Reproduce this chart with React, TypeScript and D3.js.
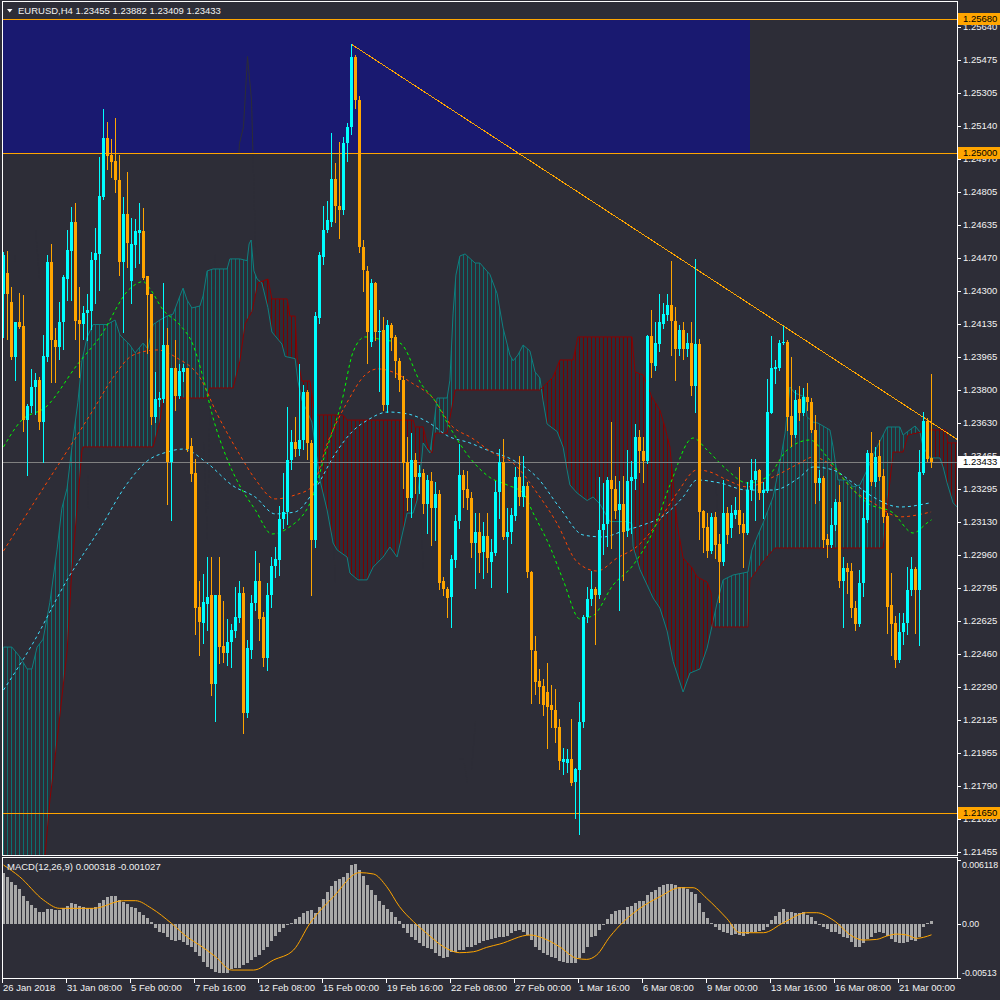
import React from "react";
import * as d3 from "d3";

// ---------------- DATA ----------------
const headerSymbol = "EURUSD,H4";
const headerValues = ["1.23455", "1.23882", "1.23409", "1.23433"];

const opens = [
  1.24288, 1.24391, 1.24246, 1.23967, 1.24143, 1.24122, 1.23646, 1.23719, 1.23812, 1.23851,
  1.23636, 1.23967, 1.24449, 1.24054, 1.24019, 1.24143, 1.24364, 1.24505, 1.24650, 1.24153,
  1.24133, 1.24190, 1.24201, 1.24460, 1.24491, 1.24778, 1.25078, 1.24992, 1.24961, 1.24863,
  1.24449, 1.24691, 1.24350, 1.24536, 1.24598, 1.24605, 1.24377, 1.24286, 1.23661, 1.23750,
  1.23754, 1.24029, 1.23435, 1.23911, 1.23766, 1.23888, 1.23911, 1.23512, 1.23377, 1.22700,
  1.22617, 1.22715, 1.22756, 1.22307, 1.22756, 1.22501, 1.22464, 1.22518, 1.22576, 1.22642,
  1.22766, 1.22160, 1.22480, 1.22718, 1.22827, 1.22645, 1.22438, 1.22759, 1.22904, 1.22935,
  1.23142, 1.23180, 1.23442, 1.23535, 1.23498, 1.23546, 1.23788, 1.23530, 1.23040, 1.24165,
  1.24476, 1.24611, 1.24650, 1.24870, 1.24735, 1.24712, 1.25050, 1.25135, 1.25491, 1.25270,
  1.24526, 1.24403, 1.24042, 1.24342, 1.24098, 1.24102, 1.23722, 1.24130, 1.24068, 1.23948,
  1.23850, 1.23435, 1.23249, 1.23443, 1.23359, 1.23379, 1.23220, 1.23337, 1.23201, 1.23270,
  1.22827, 1.22790, 1.22749, 1.22935, 1.23132, 1.23366, 1.23297, 1.23250, 1.23024, 1.23077,
  1.22976, 1.23057, 1.22927, 1.22970, 1.23281, 1.23432, 1.23053, 1.23079, 1.23160, 1.23359,
  1.23258, 1.23310, 1.22873, 1.22474, 1.22324, 1.22295, 1.22266, 1.22198, 1.22173, 1.22087,
  1.21912, 1.21906, 1.21926, 1.21809, 1.21868, 1.22114, 1.22645, 1.22737, 1.22787, 1.22756,
  1.23086, 1.23121, 1.23340, 1.23295, 1.23190, 1.23219, 1.23083, 1.23339, 1.23345, 1.23559,
  1.23491, 1.23436, 1.24074, 1.23922, 1.24031, 1.24136, 1.24181, 1.24230, 1.24148, 1.24006,
  1.24103, 1.24006, 1.24039, 1.23821, 1.24031, 1.23186, 1.23104, 1.22983, 1.23152, 1.23016,
  1.22927, 1.23172, 1.23096, 1.23164, 1.23192, 1.23118, 1.23074, 1.23291, 1.23341, 1.23392,
  1.23277, 1.23287, 1.23683, 1.23905, 1.23908, 1.24035, 1.24043, 1.23666, 1.23570, 1.23752,
  1.23680, 1.23761, 1.23739, 1.23598, 1.23328, 1.23350, 1.23045, 1.23011, 1.23113, 1.23231,
  1.22830, 1.22893, 1.22881, 1.22690, 1.22610, 1.22817, 1.23139, 1.23480, 1.23333, 1.23463,
  1.23362, 1.23159, 1.22707, 1.22617, 1.22428, 1.22572, 1.22615, 1.22783, 1.22888, 1.22783,
  1.23379, 1.23643, 1.23455,
];
const highs = [
  1.24500, 1.24505, 1.24323, 1.24143, 1.24290, 1.24282, 1.23729, 1.23905, 1.23884, 1.23864,
  1.24079, 1.24484, 1.24540, 1.24112, 1.24246, 1.24381, 1.24613, 1.24727, 1.24749, 1.24323,
  1.24226, 1.24286, 1.24497, 1.24623, 1.24981, 1.25225, 1.25157, 1.25074, 1.25180, 1.24992,
  1.24778, 1.24905, 1.24671, 1.24667, 1.24749, 1.24722, 1.24377, 1.24286, 1.23888, 1.23791,
  1.24344, 1.24112, 1.23911, 1.24050, 1.23930, 1.23930, 1.23911, 1.23553, 1.23449, 1.22829,
  1.22864, 1.22953, 1.22953, 1.22760, 1.22953, 1.22729, 1.22638, 1.22611, 1.22797, 1.22830,
  1.22800, 1.22530, 1.22760, 1.22980, 1.22920, 1.22670, 1.22820, 1.22950, 1.23000, 1.23210,
  1.23380, 1.23711, 1.23597, 1.23660, 1.23929, 1.23825, 1.23800, 1.23545, 1.24197, 1.24500,
  1.24735, 1.24760, 1.25103, 1.24952, 1.25057, 1.25083, 1.25154, 1.25553, 1.25500, 1.25290,
  1.24560, 1.24430, 1.24360, 1.24345, 1.24207, 1.24170, 1.24155, 1.24140, 1.24080, 1.23960,
  1.23870, 1.23560, 1.23579, 1.23477, 1.23420, 1.23400, 1.23367, 1.23384, 1.23333, 1.23290,
  1.22850, 1.22800, 1.22960, 1.23163, 1.23525, 1.23395, 1.23390, 1.23280, 1.23176, 1.23176,
  1.23131, 1.23176, 1.23044, 1.23335, 1.23501, 1.23549, 1.23199, 1.23199, 1.23409, 1.23462,
  1.23462, 1.23331, 1.22880, 1.22548, 1.22383, 1.22334, 1.22412, 1.22301, 1.22282, 1.22130,
  1.21984, 1.21978, 1.22130, 1.21880, 1.22217, 1.22655, 1.22801, 1.22878, 1.22800, 1.23355,
  1.23325, 1.23355, 1.23637, 1.23360, 1.23339, 1.23364, 1.23495, 1.23436, 1.23627, 1.23594,
  1.23559, 1.24080, 1.24204, 1.24142, 1.24284, 1.24239, 1.24288, 1.24453, 1.24220, 1.24130,
  1.24142, 1.24090, 1.24142, 1.24463, 1.24060, 1.23190, 1.23172, 1.23172, 1.23180, 1.23070,
  1.23341, 1.23205, 1.23214, 1.23257, 1.23409, 1.23172, 1.23333, 1.23451, 1.23451, 1.23400,
  1.23333, 1.23857, 1.24072, 1.23950, 1.24052, 1.24123, 1.24055, 1.23967, 1.23798, 1.23818,
  1.23807, 1.23832, 1.23760, 1.23671, 1.23392, 1.23360, 1.23070, 1.23200, 1.23248, 1.23316,
  1.22952, 1.22920, 1.22920, 1.22730, 1.22885, 1.23291, 1.23494, 1.23587, 1.23511, 1.23544,
  1.23400, 1.23172, 1.22868, 1.22650, 1.22665, 1.22665, 1.22901, 1.22952, 1.22900, 1.23494,
  1.23688, 1.23659, 1.23882,
];
const lows = [
  1.24070, 1.24060, 1.23957, 1.23847, 1.24112, 1.23590, 1.23367, 1.23687, 1.23677, 1.23603,
  1.23433, 1.23947, 1.23839, 1.23839, 1.23957, 1.24008, 1.24257, 1.24257, 1.24060, 1.23864,
  1.24060, 1.24050, 1.24108, 1.24242, 1.24308, 1.24770, 1.24919, 1.24878, 1.24805, 1.24381,
  1.24091, 1.24422, 1.24242, 1.24422, 1.24443, 1.24360, 1.23988, 1.23625, 1.23636, 1.23719,
  1.23739, 1.23222, 1.23139, 1.23698, 1.23760, 1.23843, 1.23491, 1.23336, 1.22559, 1.22456,
  1.22514, 1.22580, 1.22249, 1.22118, 1.22414, 1.22418, 1.22404, 1.22394, 1.22543, 1.22620,
  1.22060, 1.22140, 1.22440, 1.22680, 1.22530, 1.22400, 1.22380, 1.22700, 1.22850, 1.22860,
  1.23100, 1.23120, 1.23400, 1.23463, 1.23470, 1.23500, 1.23450, 1.22760, 1.23000, 1.24140,
  1.24440, 1.24600, 1.24630, 1.24650, 1.24570, 1.24690, 1.24963, 1.25100, 1.25230, 1.24500,
  1.24300, 1.23938, 1.24020, 1.24050, 1.23794, 1.23699, 1.23689, 1.24000, 1.23865, 1.23794,
  1.23300, 1.23190, 1.23156, 1.23274, 1.23274, 1.23173, 1.23071, 1.23012, 1.23037, 1.22790,
  1.22760, 1.22645, 1.22594, 1.22900, 1.23100, 1.23204, 1.23194, 1.22950, 1.22795, 1.22873,
  1.22845, 1.22873, 1.22801, 1.22960, 1.23150, 1.23044, 1.22775, 1.23020, 1.23140, 1.23215,
  1.23209, 1.22849, 1.22212, 1.22256, 1.22208, 1.22149, 1.21984, 1.22091, 1.22013, 1.21877,
  1.21848, 1.21858, 1.21796, 1.21625, 1.21543, 1.22090, 1.22620, 1.22710, 1.22509, 1.22742,
  1.22966, 1.23005, 1.22995, 1.23150, 1.22684, 1.22834, 1.23060, 1.23073, 1.23296, 1.23384,
  1.23331, 1.23430, 1.23864, 1.23899, 1.23996, 1.24113, 1.24156, 1.23977, 1.23850, 1.23977,
  1.23957, 1.23970, 1.23773, 1.23685, 1.23044, 1.22978, 1.22949, 1.22970, 1.22944, 1.22724,
  1.22910, 1.23020, 1.23054, 1.23150, 1.23071, 1.22902, 1.23068, 1.23240, 1.23138, 1.23248,
  1.23147, 1.23280, 1.23680, 1.23832, 1.23900, 1.24030, 1.23595, 1.23514, 1.23560, 1.23646,
  1.23670, 1.23697, 1.23587, 1.23223, 1.23240, 1.23003, 1.22952, 1.23000, 1.23090, 1.22800,
  1.22597, 1.22766, 1.22648, 1.22580, 1.22600, 1.22752, 1.23130, 1.23316, 1.23310, 1.23340,
  1.23130, 1.22563, 1.22453, 1.22394, 1.22420, 1.22512, 1.22560, 1.22760, 1.22563, 1.22504,
  1.23370, 1.23440, 1.23409,
];
const closes = [
  1.24484, 1.24288, 1.23967, 1.24143, 1.24118, 1.23646, 1.23719, 1.23816, 1.23851, 1.23636,
  1.23973, 1.24449, 1.24050, 1.24015, 1.24143, 1.24371, 1.24511, 1.24650, 1.24147, 1.24133,
  1.24190, 1.24205, 1.24460, 1.24495, 1.24785, 1.25078, 1.24987, 1.24956, 1.24863, 1.24449,
  1.24691, 1.24546, 1.24540, 1.24605, 1.24609, 1.24366, 1.24282, 1.23661, 1.23754, 1.23760,
  1.24029, 1.23435, 1.23911, 1.23766, 1.23895, 1.23911, 1.23501, 1.23371, 1.22694, 1.22621,
  1.22721, 1.22750, 1.22307, 1.22760, 1.22497, 1.22462, 1.22522, 1.22580, 1.22646, 1.22766,
  1.22160, 1.22490, 1.22718, 1.22827, 1.22635, 1.22438, 1.22759, 1.22904, 1.22939, 1.23142,
  1.23180, 1.23442, 1.23535, 1.23498, 1.23546, 1.23788, 1.23530, 1.23040, 1.24173, 1.24486,
  1.24611, 1.24663, 1.24870, 1.24735, 1.24710, 1.25050, 1.25135, 1.25491, 1.25270, 1.24526,
  1.24408, 1.24093, 1.24342, 1.24093, 1.24100, 1.23722, 1.24130, 1.24063, 1.23948, 1.23850,
  1.23430, 1.23249, 1.23443, 1.23359, 1.23376, 1.23220, 1.23342, 1.23201, 1.23271, 1.22821,
  1.22790, 1.22745, 1.22939, 1.23132, 1.23366, 1.23291, 1.23250, 1.23024, 1.23077, 1.22970,
  1.23057, 1.22946, 1.22976, 1.23281, 1.23432, 1.23053, 1.23079, 1.23164, 1.23359, 1.23258,
  1.23310, 1.22873, 1.22480, 1.22315, 1.22289, 1.22198, 1.22192, 1.22173, 1.22081, 1.21916,
  1.21926, 1.21926, 1.21804, 1.21873, 1.22114, 1.22645, 1.22737, 1.22787, 1.22756, 1.23086,
  1.23121, 1.23340, 1.23295, 1.23185, 1.23219, 1.23079, 1.23339, 1.23355, 1.23559, 1.23487,
  1.23436, 1.24074, 1.23934, 1.24035, 1.24142, 1.24185, 1.24230, 1.24148, 1.24006, 1.24103,
  1.24006, 1.24039, 1.23821, 1.24031, 1.23181, 1.23099, 1.22983, 1.23152, 1.23011, 1.22927,
  1.23172, 1.23062, 1.23172, 1.23192, 1.23113, 1.23074, 1.23291, 1.23341, 1.23387, 1.23277,
  1.23290, 1.23688, 1.23908, 1.23916, 1.24035, 1.24043, 1.23663, 1.23570, 1.23747, 1.23680,
  1.23761, 1.23739, 1.23595, 1.23328, 1.23350, 1.23040, 1.23011, 1.23113, 1.23231, 1.22830,
  1.22893, 1.22876, 1.22690, 1.22610, 1.22817, 1.23147, 1.23480, 1.23333, 1.23460, 1.23358,
  1.23155, 1.22698, 1.22610, 1.22428, 1.22572, 1.22617, 1.22783, 1.22888, 1.22786, 1.23384,
  1.23643, 1.23451, 1.23433,
];

// moving averages: [bar index, price]
const maFast: [number, number][] = [
  [0, 1.2351], [4.1, 1.23636], [10.9, 1.23718], [18.4, 1.23926], [24.1, 1.24068], [31.6, 1.24313],
  [34.9, 1.24349], [36.6, 1.24313], [39.9, 1.24205], [44.1, 1.24129], [47.4, 1.24027], [49.9, 1.23862],
  [52.4, 1.23657], [55.9, 1.23449], [59.1, 1.23312], [62.9, 1.23192], [67.1, 1.23068], [71.1, 1.23098],
  [77.1, 1.23246], [80.4, 1.23474], [84.6, 1.23743], [87.4, 1.23992], [90.4, 1.24068], [94.9, 1.24053],
  [99.1, 1.24037], [104.6, 1.23824], [107.9, 1.23743], [111.1, 1.23626], [116.6, 1.23454], [121.6, 1.23355],
  [125.9, 1.23317], [129.9, 1.23276], [132.4, 1.23175], [136.6, 1.23004], [139.9, 1.22835], [144.1, 1.22637],
  [147.4, 1.22654], [152.4, 1.22809], [157.4, 1.2291], [162.4, 1.23083], [166.6, 1.23316], [172.4, 1.23555],
  [175.9, 1.23494], [180.9, 1.23393], [185.9, 1.23327], [190.9, 1.23357], [195.9, 1.23494], [201.6, 1.23545],
  [205.9, 1.23459], [210.9, 1.23327], [215.9, 1.23226], [222.4, 1.23175], [227.4, 1.23073], [230.9, 1.23124],
  [232, 1.2314],
];
const maMid: [number, number][] = [
  [0, 1.22982], [7.4, 1.2322], [15.9, 1.23489], [22.4, 1.23697], [27.4, 1.23862], [32.4, 1.23976],
  [38.4, 1.24002], [43.4, 1.23961], [49.1, 1.23862], [53.4, 1.23677], [59.1, 1.23469], [62.9, 1.23347],
  [67.9, 1.23246], [72.9, 1.23266], [77.1, 1.23307], [81.1, 1.23535], [86.1, 1.23743], [90.4, 1.23875],
  [93.6, 1.23906], [97.9, 1.23885], [102.1, 1.23834], [107.1, 1.23763], [112.1, 1.23616], [117.1, 1.23555],
  [122.4, 1.23479], [127.4, 1.23428], [133.4, 1.23276], [138.4, 1.23121], [143.4, 1.22926], [148.4, 1.2288],
  [153.4, 1.22946], [158.4, 1.23005], [163.4, 1.23121], [168.4, 1.23276], [173.4, 1.23393], [176.6, 1.23383],
  [180.9, 1.23342], [185.9, 1.23307], [192.4, 1.23357], [199.1, 1.23428], [202.4, 1.23459], [207.4, 1.23408],
  [212.4, 1.23291], [217.4, 1.23226], [224.1, 1.23155], [231.9, 1.2318],
];
const maSlow: [number, number][] = [
  [0, 1.22276], [7.4, 1.22515], [15.9, 1.22835], [24.1, 1.23095], [30.9, 1.23323], [35.9, 1.23438],
  [40.9, 1.23484], [44.9, 1.23499], [50.9, 1.23428], [57.4, 1.23312], [62.9, 1.23256], [67.9, 1.2317],
  [72.9, 1.2318], [77.9, 1.23296], [82.9, 1.23474], [87.1, 1.23586], [91.1, 1.23647], [96.1, 1.23687],
  [101.1, 1.23677], [106.1, 1.23636], [111.1, 1.23565], [116.6, 1.2353], [120.9, 1.23494], [127.4, 1.23443],
  [133.4, 1.23355], [139.1, 1.232], [144.9, 1.23063], [149.9, 1.23053], [154.9, 1.23083], [159.9, 1.23114],
  [164.9, 1.23159], [169.9, 1.23256], [173.4, 1.23342], [179.1, 1.23327], [185.9, 1.23291], [192.4, 1.23291],
  [199.1, 1.23357], [202.4, 1.23408], [207.4, 1.23393], [212.4, 1.23327], [217.4, 1.23256], [224.1, 1.23205],
  [231.6, 1.23226],
];

// Ichimoku cloud spans (already shifted): [bar index, price]
const spanA: [number, number][] = [
  [0, 1.22494], [2.1, 1.22494], [4.1, 1.22444], [5.9, 1.22383], [7.1, 1.22383], [8.4, 1.22494], [9.9, 1.22534],
  [11.6, 1.22722], [13.4, 1.22991], [14.6, 1.23199], [15.9, 1.23301], [17.1, 1.23509], [18.6, 1.23737],
  [19.6, 1.23946], [20.9, 1.24067], [22.4, 1.24131], [25.9, 1.24131], [27.9, 1.24154], [29.1, 1.24078],
  [31.6, 1.24027], [32.9, 1.23987], [34.9, 1.24037], [36.1, 1.24007], [37.4, 1.24131], [39.1, 1.24154],
  [40.9, 1.24174], [42.4, 1.24184], [44.1, 1.24276], [44.9, 1.24316], [45.9, 1.24255], [47.1, 1.24215],
  [49.1, 1.24225], [49.9, 1.24276], [50.9, 1.24403], [52.4, 1.24413], [55.9, 1.24413], [56.6, 1.24464],
  [59.1, 1.24464], [60.9, 1.24455], [61.4, 1.2454], [61.9, 1.2456], [62.6, 1.24403], [63.4, 1.24362],
  [64.6, 1.24342], [66.1, 1.24217], [67.1, 1.24093], [69.6, 1.24032], [70.4, 1.23969], [72.9, 1.23958],
  [73.6, 1.23844], [74.6, 1.23748], [77.1, 1.23636], [79.1, 1.23342], [80.9, 1.2319], [82.4, 1.23022],
  [83.4, 1.22987], [85.9, 1.22951], [86.6, 1.2287], [88.6, 1.22835], [90.9, 1.22835], [92.4, 1.229],
  [94.9, 1.22951], [96.6, 1.23002], [98.4, 1.22951], [100.9, 1.23174], [102.4, 1.23174], [103.4, 1.2324],
  [104.6, 1.23459], [104.9, 1.2353], [106.6, 1.23479], [107.4, 1.23596], [108.4, 1.23758], [110.9, 1.23758],
  [111.6, 1.23849], [112.4, 1.24189], [113.1, 1.24382], [114.1, 1.24479], [115.4, 1.24489], [117.9, 1.24443],
  [119.1, 1.24443], [121.6, 1.24385], [123.4, 1.24288], [124.9, 1.24113], [126.6, 1.23976], [127.4, 1.23947],
  [128.6, 1.23976], [129.9, 1.24027], [131.6, 1.23997], [132.9, 1.2389], [134.1, 1.2386], [134.9, 1.23743],
  [135.9, 1.23626], [138.4, 1.23588], [139.9, 1.23509], [140.9, 1.23393], [141.6, 1.23317], [143.4, 1.23276],
  [145.9, 1.23238], [147.4, 1.23256], [149.1, 1.2322], [151.6, 1.23131], [155.9, 1.23131], [157.1, 1.23121],
  [157.4, 1.23005], [159.1, 1.22888], [160.9, 1.22809], [162.4, 1.22743], [164.1, 1.22692], [165.9, 1.22576],
  [167.4, 1.22421], [169.9, 1.22266], [171.6, 1.22362], [174.1, 1.22383], [175.9, 1.22489], [178.4, 1.22718],
  [179.9, 1.22835], [182.4, 1.2286], [186.1, 1.22875], [187.1, 1.22987], [188.4, 1.23053], [189.9, 1.23124],
  [192.4, 1.23256], [194.1, 1.23428], [195.4, 1.2358], [196.6, 1.23814], [197.9, 1.23783], [200.4, 1.23763],
  [200.9, 1.23662], [202.4, 1.23636], [203.6, 1.23631], [206.6, 1.23596], [207.4, 1.2351], [208.6, 1.23342],
  [210.9, 1.23342], [212.4, 1.23307], [214.1, 1.23317], [215.9, 1.23393], [218.4, 1.2351], [220.9, 1.23611],
  [224.1, 1.23611], [224.9, 1.2357], [225.9, 1.23586], [227.9, 1.23616], [229.1, 1.23586], [229.9, 1.2351],
  [231.6, 1.23454], [234.1, 1.23454], [234.9, 1.23408], [235.9, 1.23327], [237.4, 1.23226], [238.6, 1.23201],
];
const spanB: [number, number][] = [
  [0, 1.208], [10.4, 1.2144], [11.6, 1.21718], [13.4, 1.22023], [15.9, 1.22475], [17.1, 1.22891],
  [18.4, 1.23201], [19.6, 1.23489], [19.9, 1.2351], [37.4, 1.2351], [39.1, 1.23636], [39.9, 1.23758],
  [50.9, 1.23758], [51.6, 1.23809], [57.4, 1.23809], [59.1, 1.23946], [60.4, 1.24134], [62.1, 1.24197],
  [63.6, 1.24342], [66.1, 1.24362], [67.1, 1.24261], [70.9, 1.24261], [71.6, 1.24174], [72.9, 1.24174],
  [73.4, 1.23969], [74.6, 1.23844], [76.6, 1.23844], [77.9, 1.23672], [84.9, 1.23672], [85.9, 1.23646],
  [102.4, 1.23646], [102.9, 1.23611], [104.9, 1.23611], [106.1, 1.2351], [107.1, 1.23479], [107.9, 1.2358],
  [110.9, 1.2358], [112.9, 1.23799], [134.1, 1.23799], [137.4, 1.23865], [139.1, 1.23951], [142.4, 1.23951],
  [143.6, 1.24068], [157.1, 1.24068], [157.9, 1.2389], [159.9, 1.23875], [162.1, 1.23763], [164.1, 1.23697],
  [165.4, 1.23607], [166.6, 1.2351], [168.4, 1.23121], [169.9, 1.22946], [172.1, 1.22897], [173.4, 1.2285],
  [175.9, 1.22824], [176.9, 1.22768], [177.4, 1.22596], [186.1, 1.22596], [186.6, 1.22835], [187.9, 1.2287],
  [189.6, 1.22921], [192.4, 1.22987], [192.9, 1.22997], [219.9, 1.22997], [221.1, 1.2324], [222.4, 1.23484],
  [224.9, 1.23484], [226.1, 1.2357], [231.6, 1.23596], [235.6, 1.23596], [236.1, 1.2353], [238.6, 1.2353],
];
const chikouShift = 26;

// MACD(12,26,9)
const macdMain = [
  0.00491, 0.00453, 0.00405, 0.00373, 0.00331, 0.00268, 0.0022, 0.00182, 0.0015, 0.00118,
  0.00118, 0.00143, 0.00143, 0.00134, 0.00134, 0.0015, 0.00172, 0.00204, 0.00191, 0.00172,
  0.00166, 0.0015, 0.0015, 0.00159, 0.00198, 0.00229, 0.00261, 0.00268, 0.00268, 0.00229,
  0.00214, 0.00188, 0.00166, 0.0015, 0.00118, 0.00086, 0.00054, 0.00022, -0.00041, -0.00073,
  -0.00089, -0.00127, -0.00153, -0.00159, -0.00153, -0.00169, -0.00201, -0.00217, -0.00265, -0.00306,
  -0.0036, -0.00408, -0.00433, -0.00456, -0.00465, -0.00472, -0.00472, -0.00433, -0.00424, -0.00417,
  -0.00392, -0.00376, -0.00344, -0.00319, -0.00296, -0.00249, -0.00217, -0.00159, -0.00115, -0.00073,
  -0.00041, -0.0001, 0.00006, 0.00045, 0.0007, 0.00108, 0.00124, 0.00134, 0.00102, 0.00166,
  0.00236, 0.00309, 0.00363, 0.00414, 0.00433, 0.00453, 0.00491, 0.00564, 0.00574, 0.00516,
  0.00459, 0.00373, 0.00325, 0.00277, 0.00223, 0.00182, 0.0014, 0.00118, 0.0007, 0.00032,
  -0.00041, -0.00089, -0.00127, -0.00153, -0.00185, -0.0021, -0.00226, -0.00242, -0.0028, -0.00306,
  -0.00322, -0.00319, -0.00265, -0.00265, -0.00249, -0.00249, -0.00223, -0.00223, -0.00201, -0.00178,
  -0.00159, -0.00153, -0.00147, -0.00137, -0.00127,
  -0.00127, -0.00115, -0.00089, -0.00067, -0.00057, -0.00073, -0.00105, -0.00153, -0.00217, -0.00249,
  -0.0028, -0.00296, -0.00312, -0.00328, -0.00351, -0.0036, -0.0037, -0.00376, -0.00376, -0.00328,
  -0.0028, -0.00217, -0.00127, -0.00115, -0.00057, -0.00003, 0.00048, 0.00092, 0.00121, 0.00134,
  0.00134, 0.00166, 0.00172, 0.00204, 0.00223, 0.00223, 0.00277, 0.00309, 0.00325, 0.00351,
  0.00373, 0.00382, 0.00382, 0.00373, 0.00357, 0.00351, 0.00331, 0.00309, 0.00287, 0.00198,
  0.00118, 0.00054, 0.00013, -0.00032, -0.00057, -0.00073, -0.00089, -0.00105, -0.00096, -0.00105,
  -0.00115, -0.00096, -0.00073, -0.00073, -0.00067, -0.00057, -0.00025, 0.00038, 0.00076, 0.00118,
  0.0014, 0.00118, 0.00118, 0.00108, 0.00102, 0.00118, 0.00086, 0.0007, 0.00032, -0.00003,
  -0.00032, -0.00051, -0.00073, -0.00073, -0.00096, -0.00127, -0.00137, -0.00169, -0.00217, -0.00217,
  -0.00185, -0.00147, -0.00121, -0.00089, -0.00073, -0.00089, -0.00115, -0.00147, -0.00169, -0.00178,
  -0.00185, -0.00169, -0.00153, -0.00159, -0.00127, -0.00032, 0.00013, 0.00032,
];
const macdSignal: [number, number][] = [
  [0, 0.00564], [4, 0.00453], [10, 0.00229], [14, 0.0015], [22.5, 0.0015], [30, 0.00223], [33, 0.00223],
  [37, 0.0015], [42, 0.00006], [46, -0.00127], [49, -0.00201], [53, -0.00312], [57, -0.0044], [62.5, -0.0044],
  [67.5, -0.00344], [72.5, -0.00249], [76.6, 0.00006], [82.5, 0.00261], [89, 0.00491], [92.5, 0.00478],
  [95.8, 0.00357], [99, 0.00166], [102.5, 0.00022], [105.8, -0.00089], [110, -0.00217], [114, -0.00274],
  [117.5, -0.00265], [120.8, -0.00223], [124.1, -0.00191], [131.6, -0.00105], [135, -0.00137], [139, -0.00217],
  [143.3, -0.00328], [145.8, -0.00338], [148.3, -0.00296], [151.6, -0.00121], [155, 0.00022], [159.1, 0.0015],
  [164.1, 0.00261], [169.1, 0.00347], [172.4, 0.00347], [175.8, 0.00245], [180.8, 0.00054], [184.1, -0.00083],
  [190, -0.00083], [195, 0.00013], [200.8, 0.00108], [203.3, 0.00108], [207.4, 0.00038], [212.4, -0.00121],
  [214.9, -0.00153], [218.3, -0.00147], [220.8, -0.00115], [223.3, -0.00096], [225.8, -0.00105],
  [228.3, -0.00137], [230, -0.00127], [232, -0.00103],
];
const macdTitle = "MACD(12,26,9) 0.000318 -0.001027";
const macdTicks = [0.006118, 0, -0.00513];
const macdTickText = ["0.006118", "0.00", "-0.00513"];

// axes
const priceTicks = [
  1.2564, 1.25475, 1.25305, 1.2514, 1.2497, 1.24805, 1.24635, 1.2447, 1.243, 1.24135, 1.23965, 1.238, 1.2363,
  1.23465, 1.23295, 1.2313, 1.2296, 1.22795, 1.22625, 1.2246, 1.2229, 1.22125, 1.21955, 1.2179, 1.2162, 1.21455,
];
const timeLabelBars = [0, 16, 32, 48, 64, 80, 96, 112, 128, 144, 160, 176, 192, 208, 224];
const timeLabels = [
  "26 Jan 2018", "31 Jan 08:00", "5 Feb 00:00", "7 Feb 16:00", "12 Feb 08:00", "15 Feb 00:00", "19 Feb 16:00",
  "22 Feb 08:00", "27 Feb 00:00", "1 Mar 16:00", "6 Mar 08:00", "9 Mar 00:00", "13 Mar 16:00", "16 Mar 08:00",
  "21 Mar 00:00",
];

// objects
const levelLines = [1.2568, 1.25, 1.2165];
const bidPrice = 1.23433;
const zoneBars = [-6, 186.6];
const zonePrices = [1.25, 1.2568];
const trendPoints: [number, number][] = [[87, 1.25553], [195, 1.24123]];

// ---------------- CHART ----------------
const BG = "#2d2d37";
const BULL = "#00ffff";
const BEAR = "#ffa500";
const FONT = "'Liberation Sans', Arial, sans-serif";
const TXT = "#f2f2f2";

export default function App() {
  const x = d3.scaleLinear().domain([0, 232]).range([3.5, 931.5]);
  const y = d3.scaleLinear().domain([1.2165, 1.2568]).range([813.4, 19.3]);
  const ym = d3.scaleLinear().domain([-0.00513, 0.006118]).range([977.7, 860]);

  const mainL = 3, mainR = 957, mainT = 2, mainB = 855;
  const subT = 858, subB = 978;

  const line = d3.line<[number, number]>().x((d) => x(d[0])).y((d) => y(d[1]));
  const smooth = d3
    .line<[number, number]>()
    .x((d) => x(d[0]))
    .y((d) => y(d[1]))
    .curve(d3.curveMonotoneX);
  const smoothM = d3
    .line<[number, number]>()
    .x((d) => x(d[0]))
    .y((d) => ym(d[1]))
    .curve(d3.curveMonotoneX);

  const aAt = d3.scaleLinear().domain(spanA.map((d) => d[0])).range(spanA.map((d) => d[1])).clamp(true);
  const bAt = d3.scaleLinear().domain(spanB.map((d) => d[0])).range(spanB.map((d) => d[1])).clamp(true);
  const cloudBars = d3.range(0, 239);

  const chikou: [number, number][] = closes
    .map((c, i) => [i - chikouShift, c] as [number, number])
    .filter((d) => d[0] >= -1);

  const slope = (trendPoints[1][1] - trendPoints[0][1]) / (trendPoints[1][0] - trendPoints[0][0]);
  const trendEnd: [number, number] = [245, trendPoints[0][1] + slope * (245 - trendPoints[0][0])];

  const snap = (v: number) => Math.round(v) + 0.5;
  const fmt = d3.format(".5f");

  const boxLabel = (price: number, fill: string, key: string) => {
    const yy = Math.round(y(price));
    return (
      <g key={key}>
        <rect x={957.5} y={yy - 6} width={43} height={12} fill={fill} />
        <text x={963} y={yy} dy="0.35em" fontSize={9.5} fontFamily={FONT} fill="#000">
          {fmt(price)}
        </text>
      </g>
    );
  };

  return (
    <svg
      width={1000}
      height={1000}
      style={{ position: "absolute", left: 0, top: 0, display: "block" }}
      shapeRendering="crispEdges"
    >
      <defs>
        <clipPath id="mainClip">
          <rect x={mainL} y={mainT} width={mainR - mainL} height={mainB - mainT} />
        </clipPath>
        <clipPath id="subClip">
          <rect x={mainL} y={subT} width={mainR - mainL} height={subB - subT} />
        </clipPath>
      </defs>
      <rect x={0} y={0} width={1000} height={1000} fill={BG} />

      <g clipPath="url(#mainClip)">
        {/* rectangle object */}
        <rect
          x={x(zoneBars[0])}
          y={Math.round(y(zonePrices[1]))}
          width={x(zoneBars[1]) - x(zoneBars[0])}
          height={Math.round(y(zonePrices[0])) - Math.round(y(zonePrices[1]))}
          fill="#191970"
        />
        {/* chikou span (drawn in background colour, visible only over the rectangle) */}
        <path d={line(chikou) || ""} fill="none" stroke={BG} strokeWidth={1} shapeRendering="auto" />
        {/* cloud hatch */}
        {cloudBars.map((k) => {
          const a = aAt(k), b = bAt(k);
          return (
            <line
              key={"h" + k}
              x1={x(k)}
              x2={x(k)}
              y1={Math.round(y(a))}
              y2={Math.round(y(b))}
              stroke={a >= b ? "#0b7070" : "#7a0000"}
              strokeWidth={1}
            />
          );
        })}
        <path d={line(spanA) || ""} fill="none" stroke="#0f8080" strokeWidth={1} shapeRendering="auto" />
        <path d={line(spanB) || ""} fill="none" stroke="#8b0000" strokeWidth={1} shapeRendering="auto" />
        {/* moving averages */}
        <path d={smooth(maSlow) || ""} fill="none" stroke="#40e0ff" strokeWidth={1} strokeDasharray="3,3" shapeRendering="auto" />
        <path d={smooth(maMid) || ""} fill="none" stroke="#ff4500" strokeWidth={1} strokeDasharray="3,3" shapeRendering="auto" />
        <path d={smooth(maFast) || ""} fill="none" stroke="#00ff00" strokeWidth={1} strokeDasharray="3,3" shapeRendering="auto" />
        {/* horizontal levels */}
        {levelLines.map((p, i) => (
          <line key={"lv" + i} x1={mainL} x2={mainR} y1={snap(y(p))} y2={snap(y(p))} stroke="#ffa500" strokeWidth={1} />
        ))}
        <line x1={mainL} x2={mainR} y1={snap(y(bidPrice))} y2={snap(y(bidPrice))} stroke="#808080" strokeWidth={1} />
        {/* trend line */}
        <path d={line([trendPoints[0], trendEnd]) || ""} fill="none" stroke="#ffa500" strokeWidth={1} />
        {/* candles */}
        {opens.map((o, i) => {
          const c = closes[i];
          const col = c >= o ? BULL : BEAR;
          const top = Math.round(y(Math.max(o, c)));
          const bot = Math.round(y(Math.min(o, c)));
          const hi = Math.min(top, Math.round(y(highs[i])));
          const lo = Math.max(bot, Math.round(y(lows[i])));
          return (
            <g key={"c" + i}>
              <line x1={x(i)} x2={x(i)} y1={hi} y2={lo + 1} stroke={col} strokeWidth={1} />
              <rect x={x(i) - 1.5} y={top} width={3} height={Math.max(1, bot - top)} fill={col} />
            </g>
          );
        })}
      </g>

      {/* MACD */}
      <g clipPath="url(#subClip)">
        {macdMain.map((v, i) => {
          const y0 = Math.round(ym(0));
          const y1 = Math.round(ym(v));
          return (
            <rect
              key={"m" + i}
              x={x(i) - 1.5}
              y={Math.min(y0, y1)}
              width={3}
              height={Math.max(1, Math.abs(y1 - y0))}
              fill="#a8a8a8"
            />
          );
        })}
        <path d={smoothM(macdSignal) || ""} fill="none" stroke="#ffa500" strokeWidth={1} shapeRendering="auto" />
      </g>

      {/* frames */}
      <rect x={2.5} y={1.5} width={955} height={854} fill="none" stroke="#ffffff" strokeWidth={1} />
      <rect x={2.5} y={857.5} width={955} height={121} fill="none" stroke="#ffffff" strokeWidth={1} />

      {/* header */}
      <polygon points="7,9 12.5,9 9.75,12.5" fill="#ffffff" shapeRendering="auto" />
      <text x={18} y={11} dy="0.35em" fontSize={9.5} fontFamily={FONT} fill={TXT}>
        {headerSymbol + "  " + headerValues.join(" ")}
      </text>
      <text x={7} y={867} dy="0.35em" fontSize={9.5} fontFamily={FONT} fill={TXT}>
        {macdTitle}
      </text>

      {/* price axis */}
      {priceTicks.map((p, i) => (
        <g key={"pt" + i}>
          <line x1={957.5} x2={961} y1={snap(y(p))} y2={snap(y(p))} stroke="#ffffff" />
          <text x={963} y={Math.round(y(p))} dy="0.35em" fontSize={9.5} fontFamily={FONT} fill={TXT}>
            {fmt(p)}
          </text>
        </g>
      ))}
      {boxLabel(levelLines[0], "#ffa500", "b0")}
      {boxLabel(levelLines[1], "#ffa500", "b1")}
      {boxLabel(levelLines[2], "#ffa500", "b2")}
      {boxLabel(bidPrice, "#ffffff", "bid")}

      {/* MACD axis */}
      {macdTicks.map((v, i) => (
        <g key={"mt" + i}>
          <line x1={957.5} x2={961} y1={snap(ym(v))} y2={snap(ym(v))} stroke="#ffffff" />
          <text
            x={962}
            y={i === 0 ? ym(v) + 5 : i === 2 ? ym(v) - 5 : ym(v)}
            dy="0.35em"
            fontSize={8.8}
            fontFamily={FONT}
            fill={TXT}
          >
            {macdTickText[i]}
          </text>
        </g>
      ))}

      {/* time axis */}
      {timeLabelBars.map((b, i) => (
        <g key={"tl" + i}>
          <line x1={Math.floor(x(b)) - 0.5} x2={Math.floor(x(b)) - 0.5} y1={979} y2={983} stroke="#ffffff" />
          <text x={Math.floor(x(b))} y={988} dy="0.35em" fontSize={9.5} fontFamily={FONT} fill={TXT}>
            {timeLabels[i]}
          </text>
        </g>
      ))}
    </svg>
  );
}
